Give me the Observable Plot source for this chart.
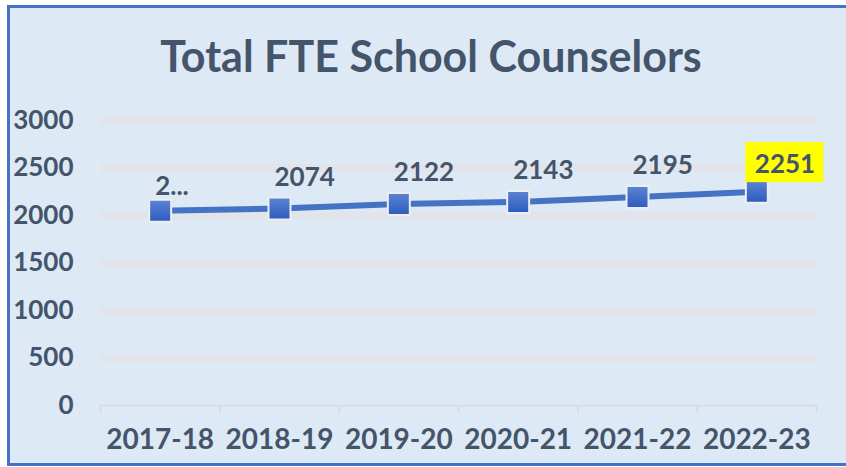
<!DOCTYPE html>
<html>
<head>
<meta charset="utf-8">
<script src="https://cdn.jsdelivr.net/npm/d3@7"></script>
<script src="https://cdn.jsdelivr.net/npm/@observablehq/plot@0.6"></script>
<style>
  html, body { margin: 0; padding: 0; background: #ffffff; width: 846px; height: 467px; overflow: hidden; }
  #frame { position: absolute; left: 7px; top: 5px; width: 860px; height: 455px;
           background: #dde9f5; border: 3px solid #4472c4; border-right: none; }
  #title { position: absolute; left: 0; top: 26px; width: 862px; text-align: center;
           font-family: Lato, sans-serif; font-weight: bold; font-size: 43px; color: #44546a;
           line-height: 60px; white-space: nowrap; }
  #chart { position: absolute; left: 0; top: 95px; }
</style>
</head>
<body>
<div id="frame"></div>
<div id="title">Total FTE School Counselors</div>
<div id="chart"></div>
<script>
const categories = ["2017-18", "2018-19", "2019-20", "2020-21", "2021-22", "2022-23"];
const values = [2051, 2074, 2122, 2143, 2195, 2251];
const labels = ["2...", "2074", "2122", "2143", "2195", "2251"];
const highlighted = ["2022-23"];
const yTicks = [0, 500, 1000, 1500, 2000, 2500, 3000];

const rows = categories.map((c, i) => ({cat: c, pos: i + 0.5, value: values[i], label: labels[i]}));
const centers = rows.map(d => d.pos);
const bounds = d3.range(categories.length + 1);

const textColor = "#44546a";

const plot = Plot.plot({
  width: 846,
  height: 368,
  marginLeft: 100,
  marginRight: 30,
  marginTop: 25,
  marginBottom: 58,
  style: {background: "transparent", fontFamily: "Lato, sans-serif", fontWeight: "bold", color: textColor, overflow: "visible"},
  x: {type: "linear", domain: [0, categories.length], label: null},
  y: {domain: [0, 3000], label: null},
  marks: [
    Plot.ruleY(yTicks.filter(d => d > 0), {x1: 0, x2: categories.length, stroke: "#e1e5eb", strokeWidth: 8, insetRight: -1}),
    Plot.ruleY([0], {x1: 0, x2: categories.length, stroke: "#d9dde3", strokeWidth: 2}),
    Plot.axisX({ticks: bounds, tickSize: 8, text: null, label: null, stroke: "#d9dde3", strokeWidth: 2}),
    Plot.axisX({ticks: centers, tickSize: 0, tickPadding: 24, fontSize: 28, fill: textColor,
                tickFormat: d => categories[Math.round(d - 0.5)], label: null}),
    Plot.axisY({ticks: yTicks, tickSize: 0, tickPadding: 27, fontSize: 26, fill: textColor,
                tickFormat: d => String(d), label: null}),
    Plot.line(rows, {x: "pos", y: "value", stroke: "#4472c4", strokeWidth: 6}),
    Plot.dot(rows, {x: "pos", y: "value", symbol: "square", r: 12.4, fill: "url(#mkgrad)", stroke: "#eceef1", strokeWidth: 2}),
    Plot.rect(rows.filter(d => highlighted.includes(d.cat)), {x1: "pos", x2: "pos", y1: "value", y2: "value",
              fill: "#ffff00", insetLeft: -11, insetRight: -67, insetTop: -49, insetBottom: 9}),
    Plot.text(rows.filter((d, i) => i === 0), {x: "pos", y: "value", text: "label", textAnchor: "start",
              dx: -5, dy: -24, fontSize: 26, fill: textColor}),
    Plot.text(rows.filter((d, i) => i > 0 && !highlighted.includes(d.cat)), {x: "pos", y: "value", text: "label", textAnchor: "start",
              dx: -5, dy: -31, fontSize: 26, fill: textColor}),
    Plot.text(rows.filter(d => highlighted.includes(d.cat)), {x: "pos", y: "value", text: "label", textAnchor: "start",
              dx: -2, dy: -27, fontSize: 26, fill: textColor})
  ]
});

const ns = "http://www.w3.org/2000/svg";
const defs = document.createElementNS(ns, "defs");
const grad = document.createElementNS(ns, "linearGradient");
grad.setAttribute("id", "mkgrad");
grad.setAttribute("x1", "0"); grad.setAttribute("y1", "0");
grad.setAttribute("x2", "0"); grad.setAttribute("y2", "1");
[["0", "#5c84d3"], ["1", "#2d5bbf"]].forEach(([o, c]) => {
  const s = document.createElementNS(ns, "stop");
  s.setAttribute("offset", o); s.setAttribute("stop-color", c);
  grad.appendChild(s);
});
defs.appendChild(grad);
plot.insertBefore(defs, plot.firstChild);

document.getElementById("chart").appendChild(plot);
</script>
</body>
</html>
